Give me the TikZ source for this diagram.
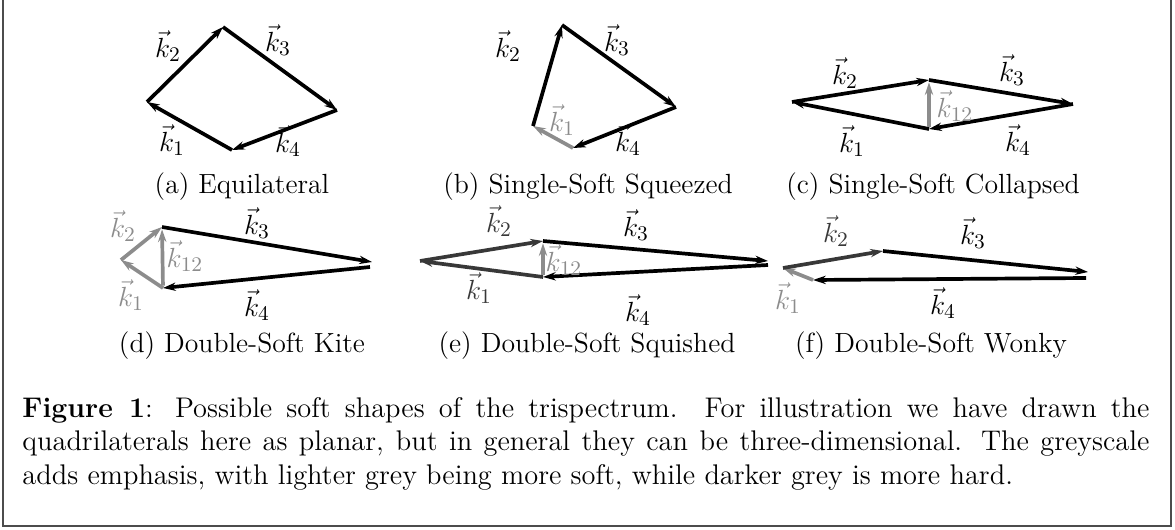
\documentclass[tikz,border=0pt]{standalone}
\usetikzlibrary{arrows.meta}
\begin{document}
\begin{tikzpicture}[x=0.433pt,y=-0.433pt,>={Stealth[length=5.5pt,width=3.6pt]},
		font=\fontsize{12}{14.5}\selectfont,
		vec/.style={->,line width=1.6pt},
		soft/.style={vec,black!45},
		semi/.style={vec,black!78},
		lbl/.style={inner sep=0pt,font=\fontsize{12.5}{14.5}\selectfont},
		lsoft/.style={lbl,text=black!45},
		lsemi/.style={lbl,text=black!78}]
	\useasboundingbox (0,0) rectangle (1175,529);
	\draw[line width=0.9pt,black!70] (3,0)--(3,526)--(1171,526)--(1171,0);
	% (a)
	\coordinate (aL) at (147,102);
	\coordinate (aT) at (223,27);
	\coordinate (aR) at (337,110);
	\coordinate (aB) at (232,150);
	\draw[vec] (aB)--(aL);
	\draw[vec] (aL)--(aT);
	\draw[vec] (aT)--(aR);
	\draw[vec] (aR)--(aB);
	\node[lbl] (ak1) at (172,140) {$\vec{k}_1$};
	\node[lbl] (ak2) at (168,46) {$\vec{k}_2$};
	\node[lbl] (ak3) at (278,40) {$\vec{k}_3$};
	\node[lbl] (ak4) at (288,141) {$\vec{k}_4$};
	\node (acap) at (242,187) {(a) Equilateral};
	% (b)
	\coordinate (bL) at (533,126);
	\coordinate (bT) at (562,25);
	\coordinate (bR) at (676,107);
	\coordinate (bB) at (573,148);
	\draw[soft] (bB)--(bL);
	\draw[vec] (bL)--(bT);
	\draw[vec] (bT)--(bR);
	\draw[vec] (bR)--(bB);
	\node[lsoft] (bk1) at (562,120) {$\vec{k}_1$};
	\node[lbl] (bk2) at (508,46) {$\vec{k}_2$};
	\node[lbl] (bk3) at (617,40) {$\vec{k}_3$};
	\node[lbl] (bk4) at (628,140) {$\vec{k}_4$};
	\node (bcap) at (588,187) {(b) Single-Soft Squeezed};
	% (c)
	\coordinate (cL) at (792,102);
	\coordinate (cT) at (929,80);
	\coordinate (cR) at (1073,104);
	\coordinate (cB) at (929,129);
	\draw[vec] (cB)--(cL);
	\draw[vec] (cL)--(cT);
	\draw[vec] (cT)--(cR);
	\draw[vec] (cR)--(cB);
	\draw[soft,shorten <=1pt,shorten >=1pt] (cB)--(cT);
	\node[lbl] (ck1) at (852,141) {$\vec{k}_1$};
	\node[lbl] (ck2) at (845,73) {$\vec{k}_2$};
	\node[lbl] (ck3) at (1012,70) {$\vec{k}_3$};
	\node[lbl] (ck4) at (1018,140) {$\vec{k}_4$};
	\node[lsoft] (ck12) at (955,106) {$\vec{k}_{12}$};
	\node (ccap) at (933,187) {(c) Single-Soft Collapsed};
	% (d)
	\coordinate (dL) at (121,260);
	\coordinate (dT) at (162,227);
	\coordinate (dR) at (372,262);
	\coordinate (dR4) at (370,267);
	\coordinate (dB) at (163,288);
	\draw[soft] (dB)--(dL);
	\draw[soft] (dL)--(dT);
	\draw[vec] (dT)--(dR);
	\draw[vec] (dR4)--(dB);
	\draw[soft,shorten <=1pt,shorten >=1pt] (dB)--(dT);
	\node[lsoft] (dk1) at (131,295) {$\vec{k}_1$};
	\node[lsoft] (dk2) at (123,226) {$\vec{k}_2$};
	\node[lbl] (dk3) at (257,223) {$\vec{k}_3$};
	\node[lbl] (dk4) at (257,305) {$\vec{k}_4$};
	\node[lsoft] (dk12) at (185,256) {$\vec{k}_{12}$};
	\node (dcap) at (242,346) {(d) Double-Soft Kite};
	% (e)
	\coordinate (eL) at (420,261);
	\coordinate (eT) at (543,241);
	\coordinate (eR) at (768,261);
	\coordinate (eR4) at (768,265);
	\coordinate (eB) at (543,277);
	\draw[semi] (eB)--(eL);
	\draw[semi] (eL)--(eT);
	\draw[vec] (eT)--(eR);
	\draw[vec] (eR4)--(eB);
	\draw[soft,shorten <=1pt,shorten >=1pt] (eB)--(eT);
	\node[lsemi] (ek1) at (479,288) {$\vec{k}_1$};
	\node[lsemi] (ek2) at (499,221) {$\vec{k}_2$};
	\node[lbl] (ek3) at (636,225) {$\vec{k}_3$};
	\node[lbl] (ek4) at (638,310) {$\vec{k}_4$};
	\node[lsoft] (ek12) at (564,260) {$\vec{k}_{12}$};
	\node (ecap) at (587,346) {(e) Double-Soft Squished};
	% (f)
	\coordinate (fL) at (783,268);
	\coordinate (fT) at (883,251);
	\coordinate (fR) at (1088,272);
	\coordinate (fR4) at (1086,278);
	\coordinate (fB) at (813,280);
	\draw[soft] (fB)--(fL);
	\draw[semi] (fL)--(fT);
	\draw[vec] (fT)--(fR);
	\draw[vec] (fR4)--(fB);
	\node[lsoft] (fk1) at (788,298) {$\vec{k}_1$};
	\node[lsemi] (fk2) at (836,231) {$\vec{k}_2$};
	\node[lbl] (fk3) at (973,233) {$\vec{k}_3$};
	\node[lbl] (fk4) at (943,303) {$\vec{k}_4$};
	\node (fcap) at (931,346) {(f) Double-Soft Wonky};
	% caption
	\node[anchor=north west,inner sep=0pt,text width=488pt,align=justify,
		font=\fontsize{12.3}{14.5}\selectfont] (cap) at (22,397)
		{\textbf{Figure 1}: Possible soft shapes of the trispectrum. For illustration we have drawn the\linebreak
		quadrilaterals here as planar, but in general they can be three-dimensional. The greyscale\linebreak
		adds emphasis, with lighter grey being more soft, while darker grey is more hard.};
\end{tikzpicture}
\end{document}
